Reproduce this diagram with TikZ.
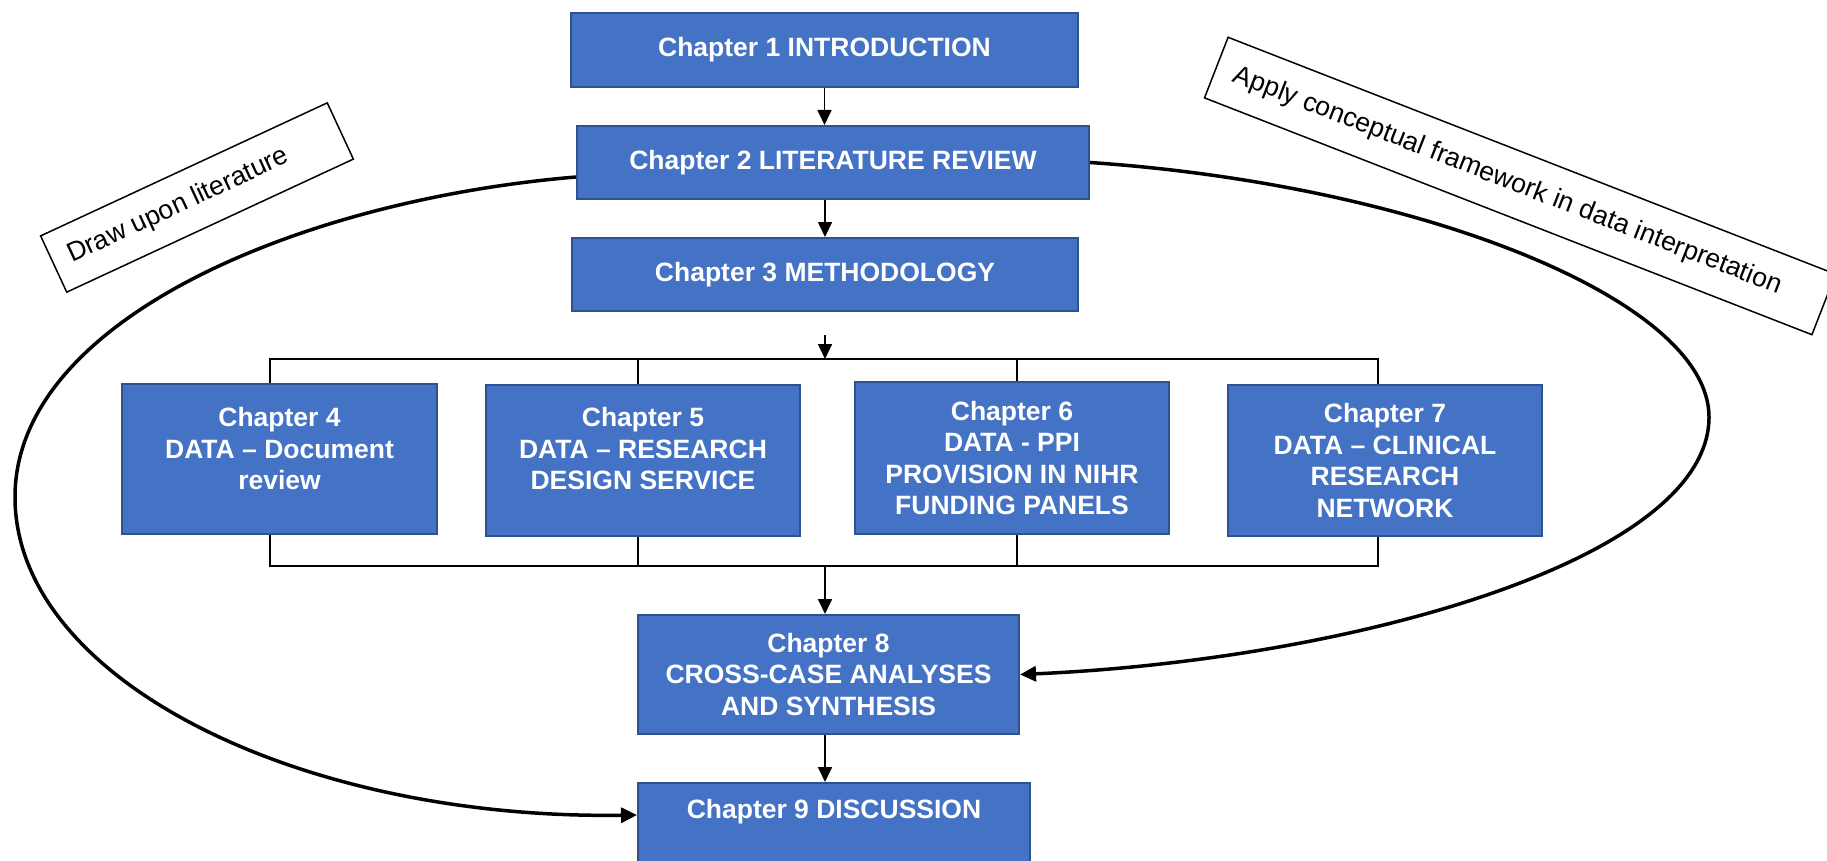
\documentclass[tikz,border=0pt]{standalone}
\usepackage{fontspec}
\setmainfont{Liberation Sans}
\usetikzlibrary{arrows.meta,calc}
\definecolor{boxblue}{HTML}{4472C4}
\definecolor{boxedge}{HTML}{2F528F}

\begin{document}
\begin{tikzpicture}[x=1pt,y=-1pt,
  chbox/.style={draw=boxedge, line width=2pt, fill=boxblue, inner sep=0pt,
    text=white, font=\bfseries\fontsize{26.5}{31.5}\selectfont, align=center},
  chtext/.style={text=white, font=\bfseries\fontsize{26.5}{31.5}\selectfont,
    align=center, inner sep=0pt},
  note/.style={draw=black, line width=1.5pt, fill=white, inner sep=0pt},
  notetext/.style={font=\fontsize{26.7}{32}\selectfont, inner sep=0pt, anchor=west},
  arr/.style={draw=black, line width=1.7pt, -{Triangle[length=15pt,width=14pt]}},
  bus/.style={draw=black, line width=1.3pt},
  loop/.style={draw=black, line width=3.5pt, -{Triangle[length=16pt,width=15pt]}}
]
\fill[white] (0,0) rectangle (1827,861);
\useasboundingbox (0,0) rectangle (1827,861);

% chapter boxes
\node[chbox, minimum width=507, minimum height=74] (c1) at (824.5,50) {Chapter 1 INTRODUCTION};
\node[chbox, minimum width=512, minimum height=73] (c2) at (833,162.5) {Chapter 2 LITERATURE REVIEW};
\node[chbox, minimum width=506, minimum height=73] (c3) at (825,274.5) {Chapter 3 METHODOLOGY};

\node[chbox, minimum width=315, minimum height=150] (c4) at (279.5,459) {};
\node[chtext] (c4t) at ([yshift=10pt]c4.center) {Chapter 4\\DATA -- Document\\review};
\node[chbox, minimum width=314, minimum height=151] (c5) at (643,460.5) {};
\node[chtext] (c5t) at ([yshift=11.5pt]c5.center) {Chapter 5\\DATA -- RESEARCH\\DESIGN SERVICE};
\node[chbox, minimum width=314, minimum height=152] (c6) at (1012,458)
  {Chapter 6\\DATA - PPI\\PROVISION IN NIHR\\FUNDING PANELS};
\node[chbox, minimum width=314, minimum height=151] (c7) at (1385,460.5)
  {Chapter 7\\DATA -- CLINICAL\\RESEARCH\\NETWORK};

\node[chbox, minimum width=381, minimum height=119] (c8) at (828.5,674.5)
  {Chapter 8\\CROSS-CASE ANALYSES\\AND SYNTHESIS};
\node[chbox, minimum width=392, minimum height=127] (c9) at (834,846.5) {};
\node[chtext] (c9t) at ([yshift=-30pt]c9.north) {Chapter 9 DISCUSSION};

% vertical flow
\draw[arr] (c1.south) -- (c1.south |- c2.north);
\draw[arr] (c2.south -| c3.north) -- (c3.north);

% branching bus above and below the data chapters
\coordinate (btop) at (825,359);
\coordinate (b4) at (270,359);
\coordinate (b5) at (638,359);
\coordinate (b6) at (1017,359);
\coordinate (b7) at (1378,359);
\coordinate (bbot) at (825,566);
\coordinate (d4) at (270,566);
\coordinate (d5) at (638,566);
\coordinate (d6) at (1017,566);
\coordinate (d7) at (1378,566);

\draw[arr, shorten <=23pt] (c3.south) -- (btop);
\draw[bus] (b4 |- c4.north) -- (b4) -- (b7) -- (b7 |- c7.north);
\draw[bus] (b5) -- (b5 |- c5.north);
\draw[bus] (b6) -- (b6 |- c6.north);
\draw[bus] (d4 |- c4.south) -- (d4) -- (d7) -- (d7 |- c7.south);
\draw[bus] (d5) -- (d5 |- c5.south);
\draw[bus] (d6) -- (d6 |- c6.south);

\draw[arr] (bbot) -- (bbot |- c8.north);
\draw[arr] (c8.south -| bbot) -- (c9.north -| bbot);

% feedback loops
\draw[loop] ([yshift=-14.5pt]c2.west) .. controls (300,200) and (15,320) .. (15,497)
  .. controls (15,680) and (300,820) .. ([yshift=-33pt]c9.north west);
\draw[loop] (c2.east) .. controls (1420,185) and (1709,300) .. (1709,417)
  .. controls (1709,560) and (1350,660) .. (c8.east);

% annotations
\node[note, rotate=24.9, minimum width=316, minimum height=62] (n1) at (197,197.5) {};
\node[notetext, rotate=24.9] (n1t) at ($(n1.west)!18pt!(n1.east)$) {Draw upon literature};
\node[note, rotate=-21.3, minimum width=652, minimum height=65] (n2) at (1520,186) {};
\node[notetext, rotate=-21.3] (n2t) at ($(n2.west)!20pt!(n2.east)$)
  {Apply conceptual framework in data interpretation};
\end{tikzpicture}
\end{document}
